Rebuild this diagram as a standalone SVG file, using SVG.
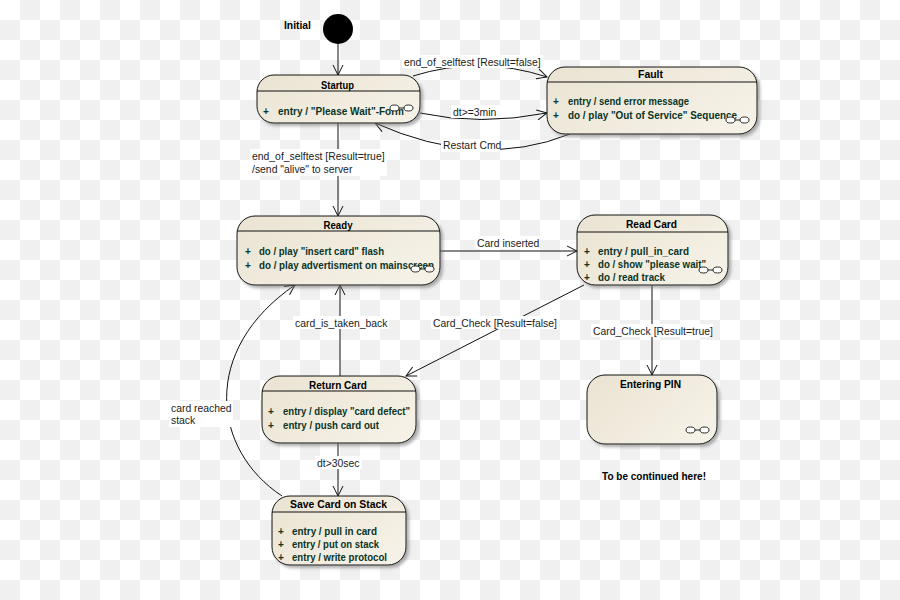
<svg xmlns="http://www.w3.org/2000/svg" xmlns:xlink="http://www.w3.org/1999/xlink" width="900" height="600" viewBox="0 0 900 600">
<defs>
  <pattern id="checker" x="0" y="0" width="40" height="40" patternUnits="userSpaceOnUse">
    <rect width="40" height="40" fill="#ffffff"/>
    <rect x="20" y="0" width="20" height="20" fill="#f0f0f0"/>
    <rect x="0" y="20" width="20" height="20" fill="#f0f0f0"/>
  </pattern>
  <linearGradient id="nodeFill" x1="0" y1="0" x2="1" y2="0.6">
    <stop offset="0" stop-color="#eae3d2"/>
    <stop offset="1" stop-color="#f5f1e6"/>
  </linearGradient>
  <filter id="shadow" x="-10%" y="-10%" width="125%" height="130%">
    <feDropShadow dx="2.5" dy="2.5" stdDeviation="1.5" flood-color="#777" flood-opacity="0.6"/>
  </filter>
  <marker id="open" viewBox="0 0 12 12" refX="11" refY="6" markerWidth="12" markerHeight="12" markerUnits="userSpaceOnUse" orient="auto">
    <path d="M1,1 L11,6 L1,11" fill="none" stroke="#111" stroke-width="1"/>
  </marker>
  <g id="comp">
    <ellipse cx="4.5" cy="0" rx="4.5" ry="3" fill="#fff" stroke="#111" stroke-width="0.9"/>
    <line x1="9" y1="0" x2="14" y2="0" stroke="#111" stroke-width="0.9"/>
    <ellipse cx="18.5" cy="0" rx="4.5" ry="3" fill="#fff" stroke="#111" stroke-width="0.9"/>
  </g>
</defs>
<style>
  .box { fill: url(#nodeFill); stroke: #111; stroke-width: 1; filter: url(#shadow); }
  .sep { stroke: #111; stroke-width: 1; }
  .hdr { font-family: "Liberation Sans", Arial, sans-serif; font-weight: bold; font-size: 10px; fill: #000; }
  .act { font-family: "Liberation Sans", Arial, sans-serif; font-weight: bold; font-size: 10px; fill: #0b3526; }
  .conn { fill: none; stroke: #111; stroke-width: 1; marker-end: url(#open); }
  .lbl { font-family: "Liberation Sans", Arial, sans-serif; font-size: 10.4px; fill: #222; }
  .lblbg { fill: #ffffff; }
</style>
<rect width="900" height="600" fill="url(#checker)"/>

<g id="connectors">
  <path class="conn" d="M338 44 V75"/>
  <path class="conn" d="M413 76 Q480 55 547 77"/>
  <path class="conn" d="M420 113 Q480 126 547 113"/>
  <path class="conn" d="M570 134 Q480 170 375 123"/>
  <path class="conn" d="M338 123 V216"/>
  <path class="conn" d="M440 251 H577"/>
  <path class="conn" d="M584 285 L406 376"/>
  <path class="conn" d="M652 285 V375"/>
  <path class="conn" d="M340 376 V285"/>
  <path class="conn" d="M338 443 V496"/>
  <path class="conn" d="M282 496 C212 450 200 350 295 285"/>

  <rect class="lblbg" x="402" y="55" width="141" height="13"/>
  <text class="lbl" x="404" y="65.5">end_of_selftest [Result=false]</text>
  <rect class="lblbg" x="451" y="105" width="49" height="13"/>
  <text class="lbl" x="453" y="115.5">dt&gt;=3min</text>
  <rect class="lblbg" x="441" y="139" width="59" height="13"/>
  <text class="lbl" x="443" y="149">Restart Cmd</text>
  <rect class="lblbg" x="250" y="149" width="137" height="27"/>
  <text class="lbl" x="252" y="160">end_of_selftest [Result=true]</text>
  <text class="lbl" x="252" y="173">/send "alive" to server</text>
  <rect class="lblbg" x="475" y="236" width="65" height="13"/>
  <text class="lbl" x="477" y="246.5">Card inserted</text>
  <rect class="lblbg" x="431" y="316" width="128" height="13"/>
  <text class="lbl" x="433" y="326.5">Card_Check [Result=false]</text>
  <rect class="lblbg" x="591" y="324" width="122" height="13"/>
  <text class="lbl" x="593" y="334.5">Card_Check [Result=true]</text>
  <rect class="lblbg" x="293" y="316" width="96" height="13"/>
  <text class="lbl" x="295" y="326.5">card_is_taken_back</text>
  <rect class="lblbg" x="315" y="456" width="47" height="13"/>
  <text class="lbl" x="317" y="466.5">dt&gt;30sec</text>
  <rect class="lblbg" x="169" y="401" width="64" height="26"/>
  <text class="lbl" x="171" y="411.5">card reached</text>
  <text class="lbl" x="171" y="424">stack</text>
</g>

<g id="initial">
  <circle cx="338" cy="29" r="15" fill="#000"/>
  <text class="hdr" x="284" y="29" textLength="27" lengthAdjust="spacingAndGlyphs">Initial</text>
</g>

<g id="startup">
  <rect class="box" x="257" y="75" width="163" height="48" rx="17" ry="17"/>
  <line class="sep" x1="257" y1="91" x2="420" y2="91"/>
  <text class="hdr" x="321" y="88.5" textLength="33" lengthAdjust="spacingAndGlyphs">Startup</text>
  <text class="act" x="263" y="115">+</text>
  <text class="act" x="278" y="115" textLength="126" lengthAdjust="spacingAndGlyphs">entry / "Please Wait"-Form</text>
  <use xlink:href="#comp" x="390" y="108"/>
</g>

<g id="fault">
  <rect class="box" x="547" y="67" width="210" height="67" rx="18" ry="18"/>
  <line class="sep" x1="547" y1="82" x2="757" y2="82"/>
  <text class="hdr" x="638" y="77.5" textLength="25" lengthAdjust="spacingAndGlyphs">Fault</text>
  <text class="act" x="553" y="105">+</text>
  <text class="act" x="568" y="105" textLength="121" lengthAdjust="spacingAndGlyphs">entry / send error message</text>
  <text class="act" x="553" y="119">+</text>
  <text class="act" x="568" y="119" textLength="169" lengthAdjust="spacingAndGlyphs">do / play "Out of Service" Sequence</text>
  <use xlink:href="#comp" x="726" y="120"/>
</g>

<g id="ready">
  <rect class="box" x="237" y="216" width="203" height="69" rx="18" ry="18"/>
  <line class="sep" x1="237" y1="231" x2="440" y2="231"/>
  <text class="hdr" x="323.5" y="228.5" textLength="29" lengthAdjust="spacingAndGlyphs">Ready</text>
  <text class="act" x="245" y="255">+</text>
  <text class="act" x="259" y="255" textLength="125" lengthAdjust="spacingAndGlyphs">do / play "insert card" flash</text>
  <text class="act" x="245" y="268.5">+</text>
  <text class="act" x="259" y="268.5" textLength="175" lengthAdjust="spacingAndGlyphs">do / play advertisment on mainscreen</text>
  <use xlink:href="#comp" x="411" y="269"/>
</g>

<g id="readcard">
  <rect class="box" x="577" y="215" width="151" height="70" rx="18" ry="18"/>
  <line class="sep" x1="577" y1="232" x2="728" y2="232"/>
  <text class="hdr" x="626" y="228" textLength="51" lengthAdjust="spacingAndGlyphs">Read Card</text>
  <text class="act" x="584" y="255">+</text>
  <text class="act" x="598" y="255" textLength="91" lengthAdjust="spacingAndGlyphs">entry / pull_in_card</text>
  <text class="act" x="584" y="268">+</text>
  <text class="act" x="598" y="268" textLength="108" lengthAdjust="spacingAndGlyphs">do / show "please wait"</text>
  <text class="act" x="584" y="281">+</text>
  <text class="act" x="598" y="281" textLength="67" lengthAdjust="spacingAndGlyphs">do / read track</text>
  <use xlink:href="#comp" x="699" y="270"/>
</g>

<g id="returncard">
  <rect class="box" x="262" y="376" width="154" height="67" rx="18" ry="18"/>
  <line class="sep" x1="262" y1="391" x2="416" y2="391"/>
  <text class="hdr" x="309" y="388.5" textLength="58" lengthAdjust="spacingAndGlyphs">Return Card</text>
  <text class="act" x="268" y="415">+</text>
  <text class="act" x="283" y="415" textLength="127" lengthAdjust="spacingAndGlyphs">entry / display "card defect"</text>
  <text class="act" x="268" y="428.5">+</text>
  <text class="act" x="283" y="428.5" textLength="96" lengthAdjust="spacingAndGlyphs">entry / push card out</text>
</g>

<g id="enteringpin">
  <rect class="box" x="587" y="375" width="130" height="69" rx="18" ry="18"/>
  <text class="hdr" x="620" y="388" textLength="61" lengthAdjust="spacingAndGlyphs">Entering PIN</text>
  <use xlink:href="#comp" x="686" y="430"/>
</g>

<g id="savecard">
  <rect class="box" x="272" y="496" width="134" height="69" rx="18" ry="18"/>
  <line class="sep" x1="272" y1="512" x2="406" y2="512"/>
  <text class="hdr" x="290" y="508" textLength="97" lengthAdjust="spacingAndGlyphs">Save Card on Stack</text>
  <text class="act" x="278" y="535">+</text>
  <text class="act" x="292" y="535" textLength="85" lengthAdjust="spacingAndGlyphs">entry / pull in card</text>
  <text class="act" x="278" y="548">+</text>
  <text class="act" x="292" y="548" textLength="87" lengthAdjust="spacingAndGlyphs">entry / put on stack</text>
  <text class="act" x="278" y="561">+</text>
  <text class="act" x="292" y="561" textLength="95" lengthAdjust="spacingAndGlyphs">entry / write protocol</text>
</g>

<g id="note">
  <text class="hdr" x="602" y="480" textLength="104" lengthAdjust="spacingAndGlyphs">To be continued here!</text>
</g>
</svg>
